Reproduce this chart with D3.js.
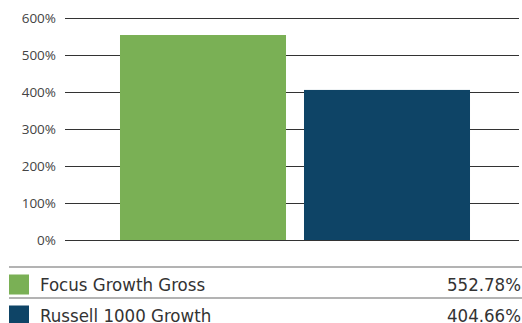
<!DOCTYPE html>
<html>
<head>
<meta charset="utf-8">
<script src="https://cdn.jsdelivr.net/npm/d3@7"></script>
<style>
  html, body { margin: 0; padding: 0; background: #fff; }
  svg { display: block; }
  .tick-label { font-family: "Open Sans", sans-serif; font-size: 13.5px; fill: #444; }
  .legend-text { font-family: "DejaVu Sans Condensed", "DejaVu Sans", sans-serif; font-size: 18.5px; fill: #333; }
</style>
</head>
<body>
<div id="chart"></div>
<script>
// Data
const series = ['Focus Growth Gross', 'Russell 1000 Growth'];
const values = [552.78, 404.66];
const colors = ['#7AB055', '#0E4466'];
const yTicks = [0, 100, 200, 300, 400, 500, 600];

const W = 522, H = 323;
const plot = { left: 65, right: 519, top: 17.5, bottom: 240 };

const svg = d3.select('#chart').append('svg')
  .attr('width', W).attr('height', H);

const x = d3.scaleBand()
  .domain(series)
  .range([111, 479])
  .paddingInner(0.0978)
  .paddingOuter(0.0489);

const y = d3.scaleLinear()
  .domain([0, 600])
  .range([plot.bottom, plot.top]);

// Grid lines
svg.append('g')
  .selectAll('line')
  .data(yTicks)
  .join('line')
  .attr('x1', plot.left)
  .attr('x2', plot.right)
  .attr('y1', d => Math.round(y(d)) + 0.5)
  .attr('y2', d => Math.round(y(d)) + 0.5)
  .attr('stroke', '#333')
  .attr('stroke-width', 1.2);

// Tick labels
svg.append('g')
  .selectAll('text')
  .data(yTicks)
  .join('text')
  .attr('class', 'tick-label')
  .attr('x', 56)
  .attr('y', d => y(d) + 5)
  .attr('text-anchor', 'end')
  .text(d => d + '%');

// Bars
svg.append('g')
  .selectAll('rect')
  .data(series)
  .join('rect')
  .attr('x', d => x(d))
  .attr('width', x.bandwidth())
  .attr('y', (d, i) => y(values[i]))
  .attr('height', (d, i) => y(0) - y(values[i]))
  .attr('fill', (d, i) => colors[i]);

// Legend table
const rowTop = [267, 298];
const legend = svg.append('g');

legend.selectAll('line')
  .data(rowTop)
  .join('line')
  .attr('x1', 9)
  .attr('x2', W)
  .attr('y1', d => d)
  .attr('y2', d => d)
  .attr('stroke', '#9a9a9a')
  .attr('stroke-width', 1.5);

const rows = legend.selectAll('g.row')
  .data(series)
  .join('g')
  .attr('class', 'row')
  .attr('transform', (d, i) => `translate(0,${rowTop[i]})`);

rows.append('rect')
  .attr('x', 9)
  .attr('y', 7.5)
  .attr('width', 20)
  .attr('height', 20)
  .attr('fill', (d, i) => colors[i]);

rows.append('text')
  .attr('class', 'legend-text')
  .attr('x', 40)
  .attr('y', 23.5)
  .text(d => d);

rows.append('text')
  .attr('class', 'legend-text')
  .attr('x', 521)
  .attr('y', 23.5)
  .attr('text-anchor', 'end')
  .text((d, i) => values[i].toFixed(2) + '%');
</script>
</body>
</html>
